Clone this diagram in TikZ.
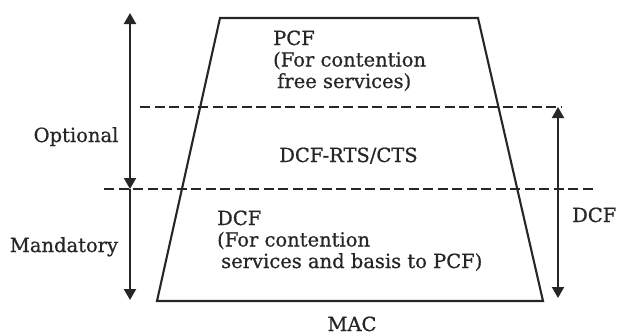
\documentclass[tikz,border=0pt]{standalone}
\usepackage{fontspec}
\setmainfont[FakeBold=0.7]{DejaVu Serif}
\usetikzlibrary{arrows.meta}
\begin{document}
\begin{tikzpicture}[x=1pt,y=-1pt,
  label/.style={inner sep=0pt,font=\fontsize{19.5}{21.5}\selectfont,text=black!85},
  block/.style={label,align=left},
  edge/.style={line width=2.1pt,black!85},
  divider/.style={line width=1.8pt,black!85,dash pattern=on 10pt off 4.5pt},
  span/.style={line width=2.1pt,black!85,arrows={-Triangle[length=11pt,width=12pt]}},
  bispan/.style={span,arrows={Triangle[length=11pt,width=12pt]-Triangle[length=11pt,width=12pt]}}]
\useasboundingbox (0,0) rectangle (618,335);

% MAC layer outline
\coordinate (tl) at (220,18);
\coordinate (tr) at (478,18);
\coordinate (br) at (543,301);
\coordinate (bl) at (157,301);
\draw[edge,line join=miter] (tl) -- (tr) -- (br) -- (bl) -- cycle;

% boundaries between the function layers
\coordinate (upL) at (140,107);
\coordinate (upR) at (562,107);
\coordinate (loL) at (104,189);
\coordinate (loR) at (597,189);
\draw[divider] (upL) -- (upR);
\draw[divider] (loL) -- (loR);

% range arrows
\coordinate (optTop) at (130,13);
\coordinate (optBot) at (130,189);
\coordinate (manBot) at (130,300);
\coordinate (dcfTop) at (558,107);
\coordinate (dcfBot) at (558,298);
\draw[bispan] (optTop) -- (optBot);
\draw[span] (optBot) -- (manBot);
\draw[bispan] (dcfTop) -- (dcfBot);

% labels (the base anchor of a block sits on its last line)
\node[block,anchor=base west] (pcf) at (273,88)
  {PCF\\(For contention\\\hspace{4pt}free services)};
\node[label,anchor=base] (rts) at (348.5,162) {DCF-RTS/CTS};
\node[block,anchor=base west] (dcf) at (217,268)
  {DCF\\(For contention\\\hspace{4pt}services and basis to PCF)};
\node[label,anchor=base] (opt) at (76,142) {Optional};
\node[label,anchor=base] (man) at (64,252) {Mandatory};
\node[label,anchor=base west] (dcfr) at (572,222) {DCF};
\node[label,anchor=base] (mac) at (352,331) {MAC};
\end{tikzpicture}
\end{document}
